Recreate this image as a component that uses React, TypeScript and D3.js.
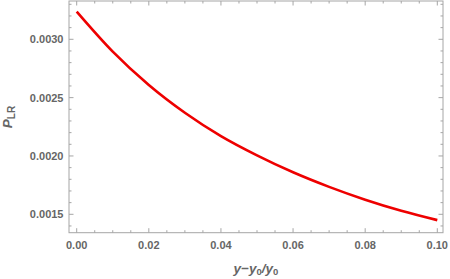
import React from "react";
import * as d3 from "d3";

const xValues = [0, 0.01, 0.02, 0.03, 0.04, 0.05, 0.06, 0.07, 0.08, 0.09, 0.1];
const yValues = [0.003237, 0.002894, 0.002608, 0.00237, 0.00217, 0.002005, 0.00186, 0.001735, 0.001625, 0.00153, 0.00145];
const xTickValues = [0, 0.02, 0.04, 0.06, 0.08, 0.1];
const yTickValues = [0.0015, 0.002, 0.0025, 0.003];

const W = 450;
const H = 279;
const L = 69, R = 443, T = 1, B = 232.7;

export default function App() {
  const x = d3.scaleLinear().domain([0, 0.1]).range([76.7, 437.3]);
  const y = d3.scaleLinear().domain([0.0015, 0.003]).range([214.3, 39.3]);
  const xMinor = d3.range(0, 0.1001, 0.005).filter((v) => !xTickValues.some((t) => Math.abs(t - v) < 1e-9));
  const yMinor = d3.range(0.0014, 0.00331, 0.0001).filter((v) => !yTickValues.some((t) => Math.abs(t - v) < 1e-9) && y(v) >= T && y(v) <= B);
  const line = d3.line<number>().x((_, i) => x(xValues[i])).y((d) => y(d)).curve(d3.curveMonotoneX);
  const frame = "#a6a6a6";
  const txt = "#666666";
  const font = "'Liberation Sans', Arial, sans-serif";
  return (
    <svg width={W} height={H} style={{ position: "absolute", left: 0, top: 0 }}>
      <rect x={0} y={0} width={W} height={H} fill="white" />
      <rect x={L} y={T} width={R - L} height={B - T} fill="none" stroke={frame} strokeWidth={1} />
      {xTickValues.map((v) => (
        <g key={"xt" + v}>
          <line x1={x(v)} x2={x(v)} y1={B} y2={B - 4.5} stroke={frame} />
          <line x1={x(v)} x2={x(v)} y1={T} y2={T + 4.5} stroke={frame} />
          <text x={x(v)} y={249.3} textAnchor="middle" fontSize={11} fontWeight="bold" fill={txt} fontFamily={font}>
            {v.toFixed(2)}
          </text>
        </g>
      ))}
      {xMinor.map((v) => (
        <g key={"xm" + v}>
          <line x1={x(v)} x2={x(v)} y1={B} y2={B - 2.5} stroke={frame} />
          <line x1={x(v)} x2={x(v)} y1={T} y2={T + 2.5} stroke={frame} />
        </g>
      ))}
      {yTickValues.map((v) => (
        <g key={"yt" + v}>
          <line x1={L} x2={L + 4.5} y1={y(v)} y2={y(v)} stroke={frame} />
          <line x1={R} x2={R - 4.5} y1={y(v)} y2={y(v)} stroke={frame} />
          <text x={63.5} y={y(v) + 4} textAnchor="end" fontSize={11} fontWeight="bold" fill={txt} fontFamily={font}>
            {v.toFixed(4)}
          </text>
        </g>
      ))}
      {yMinor.map((v) => (
        <g key={"ym" + v}>
          <line x1={L} x2={L + 2.5} y1={y(v)} y2={y(v)} stroke={frame} />
          <line x1={R} x2={R - 2.5} y1={y(v)} y2={y(v)} stroke={frame} />
        </g>
      ))}
      <path d={line(yValues) || ""} fill="none" stroke="#ee0000" strokeWidth={2.6} />
      <text x={256} y={273} textAnchor="middle" fontSize={13.5} fontWeight="bold" fill={txt} fontFamily={font}>
        <tspan fontStyle="italic">y</tspan>
        <tspan>−</tspan>
        <tspan fontStyle="italic">y</tspan>
        <tspan fontSize={9.5} dy={2}>0</tspan>
        <tspan dy={-2} fontStyle="italic">/y</tspan>
        <tspan fontSize={9.5} dy={2}>0</tspan>
      </text>
      <text transform={`translate(12,117) rotate(-90)`} textAnchor="middle" fontSize={13.5} fontWeight="bold" fill={txt} fontFamily={font}>
        <tspan fontStyle="italic">P</tspan>
        <tspan fontSize={10} dy={3}>LR</tspan>
      </text>
    </svg>
  );
}
